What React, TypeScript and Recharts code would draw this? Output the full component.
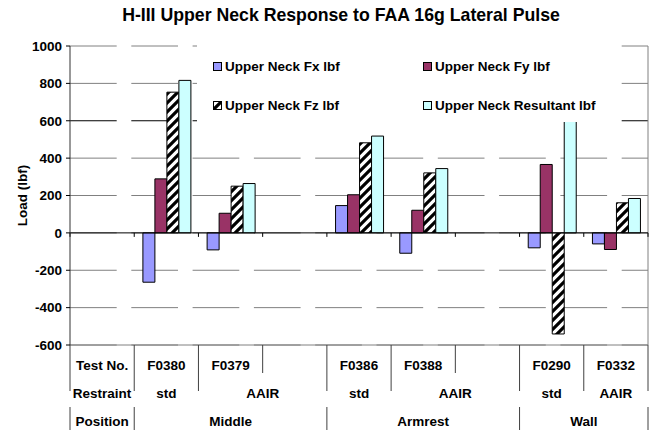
import React from 'react';
import { BarChart, Bar, XAxis, YAxis, CartesianGrid, ReferenceLine, ReferenceArea, Legend } from 'recharts';

const FONT = "'Liberation Sans', Arial, Helvetica, sans-serif";

// ---- data ----
const categories = ['label', 'F0380', 'F0379', 'gap1', 'F0386', 'F0388', 'gap2', 'F0290', 'F0332'];
const testNoRow = ['Test No.', 'F0380', 'F0379', '', 'F0386', 'F0388', '', 'F0290', 'F0332'];
const restraintLabels = ['Restraint', 'std', 'AAIR', 'std', 'AAIR', 'std', 'AAIR'];
const restraintSpans = [1, 1, 2, 1, 2, 1, 1];
const positionLabels = ['Position', 'Middle', 'Armrest', 'Wall'];
const positionSpans = [1, 3, 3, 2];

const fxValues = [null, -264, -91, null, 146, -109, null, -80, -59];
const fyValues = [null, 289, 105, null, 204, 121, null, 366, -89];
const fzValues = [null, 753, 250, null, 482, 321, null, -541, 161];
const resultantValues = [null, 816, 264, null, 518, 344, null, 596, 184];

const yTicks = [-600, -400, -200, 0, 200, 400, 600, 800, 1000];
const yMinorTicks = [
  -600, -550, -500, -450, -400, -350, -300, -250, -200, -150, -100, -50, 0,
  50, 100, 150, 200, 250, 300, 350, 400, 450, 500, 550, 600, 650, 700, 750, 800, 850, 900, 950, 1000,
];
const yDomain: [number, number] = [-600, 1000];

const seriesKeys = ['fx', 'fy', 'fz', 'resultant'];
const seriesNames = ['Upper Neck Fx lbf', 'Upper Neck Fy lbf', 'Upper Neck Fz lbf', 'Upper Neck Resultant lbf'];
const seriesFills = ['#9999FF', '#993366', 'url(#fzStripes)', '#CCFFFF'];

const data = categories.map((category, i) => ({
  category,
  fx: fxValues[i],
  fy: fyValues[i],
  fz: fzValues[i],
  resultant: resultantValues[i],
}));

const cumulative = (spans: number[]) => {
  const out = [0];
  let s = 0;
  spans.forEach((v) => {
    s += v;
    out.push(s);
  });
  return out;
};
const restraintBounds = cumulative(restraintSpans);
const positionBounds = cumulative(positionSpans);

const textStyle = { fontFamily: FONT, fontWeight: 'bold' as const, fontSize: 13.5, fill: '#000' };

const TableShape = (props: any) => {
  const { x1, x2, y1 } = props;
  const n = categories.length;
  const band = (x2 - x1) / n;
  const lineColor = '#404040';
  const elems: any[] = [];
  elems.push(<line key="top" x1={x1} x2={x2} y1={y1} y2={y1} stroke="#808080" />);
  for (let i = 0; i <= n; i++) {
    const x = x1 + i * band;
    const isPos = positionBounds.includes(i);
    const isRes = restraintBounds.includes(i);
    const bottom = isRes || isPos ? y1 + 46 : y1 + 28;
    elems.push(<line key={'v' + i} x1={x} x2={x} y1={y1} y2={bottom} stroke={lineColor} />);
    if (isPos) elems.push(<line key={'p' + i} x1={x} x2={x} y1={y1 + 62} y2={y1 + 95} stroke={lineColor} />);
  }
  testNoRow.forEach((t, i) => {
    if (t)
      elems.push(
        <text key={'t' + i} x={x1 + (i + 0.5) * band} y={y1 + 25} textAnchor="middle" style={textStyle}>
          {t}
        </text>
      );
  });
  restraintLabels.forEach((t, k) => {
    const c = (restraintBounds[k] + restraintBounds[k + 1]) / 2;
    elems.push(
      <text key={'r' + k} x={x1 + c * band} y={y1 + 53} textAnchor="middle" style={textStyle}>
        {t}
      </text>
    );
  });
  positionLabels.forEach((t, k) => {
    const c = (positionBounds[k] + positionBounds[k + 1]) / 2;
    elems.push(
      <text key={'q' + k} x={x1 + c * band} y={y1 + 81} textAnchor="middle" style={textStyle}>
        {t}
      </text>
    );
  });
  return <g>{elems}</g>;
};

const ZeroAxisShape = (props: any) => {
  const { x1, x2, y1 } = props;
  const n = categories.length;
  const band = (x2 - x1) / n;
  return (
    <g>
      <line x1={x1} x2={x2} y1={y1} y2={y1} stroke="#000" />
      {Array.from({ length: n + 1 }).map((_, i) => (
        <line key={i} x1={x1 + i * band} x2={x1 + i * band} y1={y1} y2={y1 + 4} stroke="#000" />
      ))}
    </g>
  );
};

const RightBorderShape = (props: any) => {
  const { x, y, width, height } = props;
  return <line x1={x + width} x2={x + width} y1={y} y2={y + height} stroke="#808080" />;
};

const GridLine = (props: any) => {
  const { x1, x2, y1, y2, y, height } = props;
  const value = yDomain[1] - ((y1 - y) / height) * (yDomain[1] - yDomain[0]);
  const dark = Math.round(value) === 600;
  return (
    <line
      x1={x1}
      x2={x2}
      y1={y1}
      y2={y2}
      stroke={dark ? '#000' : '#808080'}
      strokeWidth={1}
      strokeDasharray="46.7 14.6"
    />
  );
};

const EmptyTick = () => <g />;

const Swatch = ({ fill }: { fill: string }) => (
  <svg width={9} height={9} style={{ display: 'block', flex: 'none' }}>
    <rect x={0.5} y={0.5} width={8} height={8} fill={fill} stroke="#000" strokeWidth={1} />
  </svg>
);

const LegendContent = () => (
  <div
    style={{
      position: 'relative',
      width: '100%',
      height: '100%',
      background: '#fff',
      fontFamily: FONT,
      fontWeight: 'bold',
      fontSize: 13.5,
      color: '#000',
    }}
  >
    {seriesNames.map((name, i) => (
      <div
        key={name}
        style={{
          position: 'absolute',
          left: (i % 2) * 210 + 16,
          top: Math.floor(i / 2) * 39 + 19,
          display: 'flex',
          alignItems: 'center',
          whiteSpace: 'nowrap',
          lineHeight: '15px',
        }}
      >
        <Swatch fill={seriesFills[i]} />
        <span style={{ marginLeft: 3 }}>{name}</span>
      </div>
    ))}
  </div>
);

export default function App() {
  return (
    <div style={{ position: 'absolute', left: 0, top: 0, width: 656, height: 430, background: '#fff' }}>
      <svg width={0} height={0} style={{ position: 'absolute' }}>
        <defs>
          <pattern id="fzStripes" patternUnits="userSpaceOnUse" width={9} height={9}>
            <rect width={9} height={9} fill="#fff" />
            <path d="M-2,2 L2,-2 M0,9 L9,0 M7,11 L11,7" stroke="#000" strokeWidth={3.2} />
          </pattern>
        </defs>
      </svg>
      <svg width={656} height={30} style={{ position: 'absolute', left: 0, top: 0 }}>
        <text x={341} y={21} textAnchor="middle" style={{ fontFamily: FONT, fontWeight: 'bold', fontSize: 17.7, fill: '#000' }}>
          H-III Upper Neck Response to FAA 16g Lateral Pulse
        </text>
      </svg>
      <BarChart
        width={656}
        height={430}
        data={data}
        margin={{ top: 46, right: 8, bottom: 85, left: 10 }}
        barCategoryGap="13.5%"
        barGap={0}
      >
        <XAxis dataKey="category" type="category" hide />
        <YAxis
          yAxisId="minor"
          orientation="left"
          mirror
          width={0}
          type="number"
          domain={yDomain}
          ticks={yMinorTicks}
          interval={0}
          tick={EmptyTick}
          tickSize={3}
          axisLine={false}
          tickLine={{ stroke: '#000' }}
        />
        <YAxis
          yAxisId="main"
          width={60}
          type="number"
          domain={yDomain}
          ticks={yTicks}
          interval={0}
          tickSize={4}
          tickMargin={4}
          tick={textStyle}
          axisLine={{ stroke: '#333' }}
          tickLine={{ stroke: '#000' }}
          label={{
            value: 'Load (lbf)',
            angle: -90,
            position: 'insideLeft',
            offset: 12,
            style: { ...textStyle, textAnchor: 'middle' },
          }}
        />
        <CartesianGrid yAxisId="main" vertical={false} horizontal={GridLine} />
        {seriesKeys.map((k, i) => (
          <Bar
            key={k}
            dataKey={k}
            name={seriesNames[i]}
            yAxisId="main"
            fill={seriesFills[i]}
            stroke="#000"
            strokeWidth={1}
            isAnimationActive={false}
          />
        ))}
        <ReferenceArea yAxisId="main" y1={yDomain[0]} y2={yDomain[1]} fill="none" shape={RightBorderShape} />
        <ReferenceLine yAxisId="main" y={0} shape={ZeroAxisShape} />
        <ReferenceLine yAxisId="main" y={yDomain[0]} shape={TableShape} />
        <Legend
          layout="horizontal"
          verticalAlign="middle"
          align="center"
          content={LegendContent}
          wrapperStyle={{ left: 197, top: 40, width: 415, height: 82, background: '#fff' }}
        />
      </BarChart>
    </div>
  );
}
